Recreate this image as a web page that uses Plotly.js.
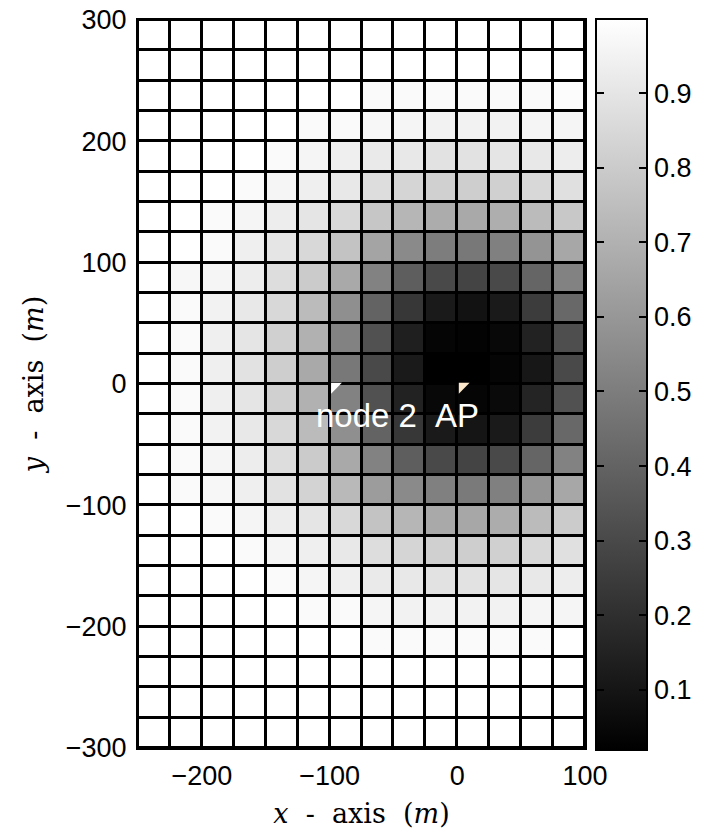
<!DOCTYPE html>
<html>
<head>
<meta charset="utf-8">
<script src="https://cdn.plot.ly/plotly-3.0.1.min.js"></script>
<style>html,body{margin:0;padding:0;background:#fff;}#chart{width:704px;height:833px;}</style>
</head>
<body>
<div id="chart"></div>
<script>
// Grid cell boundaries (m)
const xEdges = [-250,-225,-200,-175,-150,-125,-100,-75,-50,-25,0,25,50,75,100];
const yEdges = [-300,-275,-250,-225,-200,-175,-150,-125,-100,-75,-50,-25,0,25,50,75,100,125,150,175,200,225,250,275,300];

// Cell values, rows listed from top (y 275..300) to bottom (y -300..-275)
const zTopToBottom = [
  [1,1,1,1,1,1,1,1,1,1,1,1,1,1],
  [1,1,1,1,1,1,1,1,1,1,1,1,1,1],
  [1,1,1,1,1,1,1,0.98,0.98,0.98,0.98,0.98,0.98,0.99],
  [1,1,1,1,1,0.98,0.98,0.97,0.96,0.95,0.95,0.95,0.96,0.96],
  [1,1,1,1,0.98,0.96,0.94,0.92,0.91,0.89,0.89,0.9,0.91,0.93],
  [1,1,1,0.98,0.96,0.94,0.91,0.87,0.84,0.82,0.81,0.82,0.85,0.88],
  [1,1,0.98,0.96,0.93,0.9,0.85,0.78,0.72,0.68,0.67,0.69,0.74,0.79],
  [1,1,0.98,0.94,0.9,0.85,0.77,0.65,0.55,0.5,0.48,0.51,0.59,0.66],
  [1,0.97,0.96,0.93,0.87,0.8,0.67,0.52,0.38,0.3,0.28,0.3,0.41,0.52],
  [1,0.98,0.95,0.91,0.85,0.74,0.57,0.4,0.23,0.12,0.09,0.12,0.25,0.42],
  [1,0.98,0.94,0.9,0.82,0.7,0.52,0.33,0.14,0.04,0.03,0.05,0.15,0.32],
  [1,0.98,0.94,0.89,0.81,0.67,0.48,0.3,0.12,0.02,0.02,0.04,0.11,0.3],
  [1,0.98,0.94,0.9,0.82,0.7,0.52,0.33,0.15,0.05,0.04,0.06,0.16,0.33],
  [1,0.98,0.95,0.91,0.85,0.74,0.57,0.4,0.23,0.12,0.1,0.12,0.25,0.42],
  [1,0.98,0.96,0.93,0.87,0.8,0.67,0.52,0.38,0.3,0.28,0.3,0.41,0.52],
  [1,0.98,0.97,0.94,0.89,0.83,0.73,0.62,0.55,0.51,0.49,0.51,0.59,0.66],
  [1,1,0.98,0.96,0.93,0.9,0.85,0.77,0.72,0.67,0.66,0.68,0.74,0.8],
  [1,1,1,0.98,0.96,0.94,0.91,0.87,0.84,0.82,0.81,0.82,0.85,0.88],
  [1,1,1,1,0.98,0.96,0.94,0.92,0.91,0.89,0.89,0.9,0.91,0.93],
  [1,1,1,1,1,0.98,0.98,0.96,0.95,0.95,0.95,0.95,0.96,0.96],
  [1,1,1,1,1,1,1,0.98,0.98,0.98,0.98,0.98,0.98,1],
  [1,1,1,1,1,1,1,1,1,1,1,1,1,1],
  [1,1,1,1,1,1,1,1,1,1,1,1,1,1],
  [1,1,1,1,1,1,1,1,1,1,1,1,1,1]
];
const zMin = 0.02;
const zMax = 1.0;

// Nodes (marker positions) and their labels
const nodeX = [-96, 4];
const nodeY = [-2, -2];
const nodeColors = ['#ffffff', '#fde8cc'];
const labelText = ['node 2', 'AP'];
const labelX = [-71, 0];
const labelY = [-26, -26];

// Tick labels
const xTicks = [-200, -100, 0, 100];
const yTicks = [-300, -200, -100, 0, 100, 200, 300];
const cbTicks = [0.1, 0.2, 0.3, 0.4, 0.5, 0.6, 0.7, 0.8, 0.9];

const sansFont = 'Liberation Sans, Arial, sans-serif';
const serifFont = 'DejaVu Serif, serif';
const plotW = 704 - 138 - 119;
const cbLeft = 1.0246;

const heat = {
  type: 'heatmap',
  x: xEdges,
  y: yEdges,
  z: zTopToBottom.slice().reverse(),
  zmin: zMin,
  zmax: zMax,
  colorscale: [[0, 'rgb(0,0,0)'], [1, 'rgb(255,255,255)']],
  xgap: 3,
  ygap: 3,
  hoverinfo: 'skip',
  colorbar: {
    x: cbLeft, xanchor: 'left', xpad: 0,
    y: 0.5, yanchor: 'middle', ypad: 0,
    len: 1.004, lenmode: 'fraction',
    thickness: 51, thicknessmode: 'pixels',
    outlinewidth: 2, outlinecolor: '#000',
    ticks: 'inside', ticklen: 9, tickwidth: 2, tickcolor: '#000',
    tickvals: cbTicks, ticktext: cbTicks.map(v => v.toFixed(1)),
    tickfont: {family: sansFont, size: 27, color: '#000'}
  }
};

const nodes = {
  type: 'scatter', mode: 'markers',
  x: nodeX, y: nodeY,
  marker: {symbol: 'triangle-nw', size: 12, color: nodeColors, line: {width: 0}},
  hoverinfo: 'skip', showlegend: false
};

// invisible trace whose transparent colour bar supplies the ticks on the left edge of the bar
const leftTicks = {
  type: 'scatter', mode: 'markers',
  x: nodeX, y: nodeY,
  marker: {
    size: 0.1, opacity: 0, color: [zMin, zMax], cmin: zMin, cmax: zMax,
    colorscale: [[0, 'rgba(0,0,0,0)'], [1, 'rgba(0,0,0,0)']],
    showscale: true,
    colorbar: {
      x: cbLeft - 2 / plotW, xanchor: 'left', xpad: 0,
      y: 0.5, yanchor: 'middle', ypad: 0,
      len: 1.004, lenmode: 'fraction',
      thickness: 1, thicknessmode: 'pixels',
      outlinewidth: 0, bgcolor: 'rgba(0,0,0,0)',
      ticks: 'outside', ticklen: 9, tickwidth: 2, tickcolor: '#000',
      tickvals: cbTicks, showticklabels: false
    }
  },
  hoverinfo: 'skip', showlegend: false
};

const labels = labelText.map((t, i) => ({
  x: labelX[i], y: labelY[i], xref: 'x', yref: 'y',
  text: t, showarrow: false, xanchor: 'center', yanchor: 'middle',
  font: {family: sansFont, size: 33, color: '#ffffff'}
}));

const layout = {
  width: 704, height: 833,
  margin: {l: 138, r: 119, t: 20, b: 85, autoexpand: false},
  paper_bgcolor: '#ffffff',
  plot_bgcolor: '#000000',
  showlegend: false,
  xaxis: {
    range: [-250, 100], tickvals: xTicks,
    ticks: 'inside', ticklen: 7, tickwidth: 2, tickcolor: '#000',
    showline: true, mirror: true, linecolor: '#000', linewidth: 2,
    showgrid: false, zeroline: false, ticklabelstandoff: 3,
    tickfont: {family: sansFont, size: 27, color: '#000'},
    title: {text: '<i>x</i>&nbsp; - &nbsp;axis &nbsp;(<i>m</i>)', font: {family: serifFont, size: 27, color: '#000'}, standoff: 14}
  },
  yaxis: {
    range: [-300, 300], tickvals: yTicks,
    ticks: 'inside', ticklen: 7, tickwidth: 2, tickcolor: '#000',
    showline: true, mirror: true, linecolor: '#000', linewidth: 2,
    showgrid: false, zeroline: false, ticklabelstandoff: 4,
    tickfont: {family: sansFont, size: 27, color: '#000'},
    title: {text: '<i>y</i>&nbsp; - &nbsp;axis &nbsp;(<i>m</i>)', font: {family: serifFont, size: 27, color: '#000'}, standoff: 14}
  },
  annotations: labels
};

Plotly.newPlot('chart', [heat, nodes, leftTicks], layout, {displayModeBar: false, staticPlot: true});
</script>
</body>
</html>
